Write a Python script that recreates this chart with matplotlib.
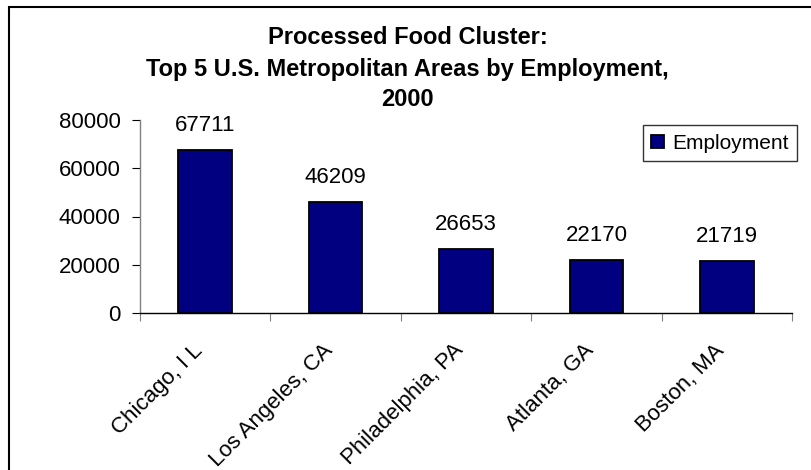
import matplotlib
matplotlib.use("Agg")
import matplotlib.pyplot as plt
from matplotlib.patches import Rectangle

categories = ["Chicago, I L", "Los Angeles, CA", "Philadelphia, PA", "Atlanta, GA", "Boston, MA"]
employment = [67711, 46209, 26653, 22170, 21719]
yticks = [0, 20000, 40000, 60000, 80000]

plt.rcParams['font.family'] = ['Liberation Sans', 'DejaVu Sans']

W, H = 812, 470
PX = 72 / 100  # points per pixel at 100 dpi
fig = plt.figure(figsize=(W / 100, H / 100), dpi=100)
fig.patch.set_facecolor('white')

# outer chart border (cropped at right/bottom)
fig.patches.append(Rectangle((9 / W, -0.02), 1.05, 1 - 7 / H + 0.02, transform=fig.transFigure,
                             fill=False, edgecolor='black', linewidth=1.5))

ax = fig.add_axes([140 / W, 1 - 313 / H, (792 - 140) / W, (313 - 120) / H])
x = list(range(len(categories)))
bars = ax.bar(x, employment, width=0.41, color='#000080', edgecolor='black', linewidth=1.3,
              label='Employment', zorder=3)

for xi, v in zip(x, employment):
    ax.annotate(str(v), xy=(xi, v), xytext=(0, 19 * PX), textcoords='offset points',
                ha='center', va='baseline', fontsize=16)

ax.set_xlim(-0.5, len(categories) - 0.5)
ax.set_ylim(0, 80000)
ax.set_yticks(yticks)
ax.set_yticklabels([str(t) for t in yticks], fontsize=16)
ax.tick_params(axis='y', direction='out', length=6, width=0.8, colors='black', pad=8)

ax.set_xticks([i - 0.5 for i in range(len(categories) + 1)])
ax.set_xticklabels([])
ax.tick_params(axis='x', direction='out', length=6, width=0.8, color='#808080')

for xi, name in zip(x, categories):
    ax.annotate(name, xy=(xi, 0), xycoords=('data', 'axes fraction'),
                xytext=(-13 * PX, -27 * PX), textcoords='offset points',
                rotation=45, rotation_mode='anchor', ha='right', va='top', fontsize=16)

for s in ['top', 'right']:
    ax.spines[s].set_visible(False)
ax.spines['left'].set_color('#808080')
ax.spines['left'].set_linewidth(1.0)
ax.spines['bottom'].set_color('black')
ax.spines['bottom'].set_linewidth(1.0)

cx = (9 + 806) / 2 / W
fig.text(cx, 1 - 44 / H, "Processed Food Cluster:", ha='center', va='baseline', fontsize=17, fontweight='bold')
fig.text(cx, 1 - 76 / H, "Top 5 U.S. Metropolitan Areas by Employment,", ha='center', va='baseline', fontsize=17, fontweight='bold')
fig.text(cx, 1 - 106 / H, "2000", ha='center', va='baseline', fontsize=17, fontweight='bold')

leg = fig.legend(handles=[bars], labels=['Employment'], loc='lower right',
                 bbox_to_anchor=(797 / W, 1 - 161 / H), fontsize=15, frameon=True,
                 fancybox=False, edgecolor='black', handlelength=0.6, handleheight=0.6,
                 handletextpad=0.4, borderpad=0.4, borderaxespad=0)
leg.get_frame().set_linewidth(1.0)

fig.savefig('out.png', dpi=100)
